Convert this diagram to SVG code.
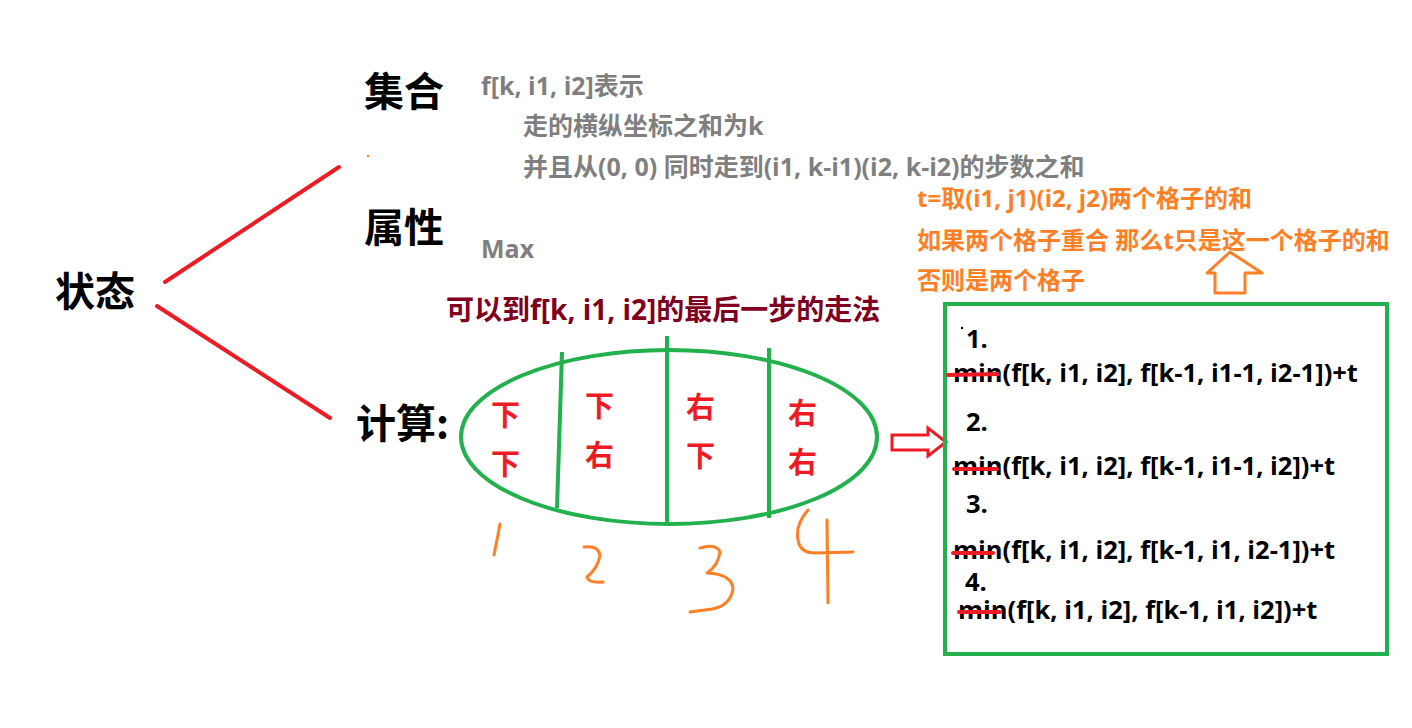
<svg xmlns="http://www.w3.org/2000/svg" width="1412" height="728" viewBox="0 0 1412 728">
<style>
text{font-family:"Open Sans","Noto Sans CJK SC",sans-serif;font-weight:bold}
.big{font-size:40px;fill:#000;font-family:"Noto Sans CJK SC",sans-serif}
.gray{font-size:25px;fill:#7f7f7f}
.org{font-size:24px;fill:#ff7f27}
.blk{font-size:25.5px;fill:#000}
.cell{font-size:29px;fill:#ed1c24;font-family:"Noto Sans CJK SC",sans-serif}
.title{font-size:28px;fill:#7f0020}
.red{stroke:#ed1c24;stroke-width:4;fill:none;stroke-linecap:round}
.grn{stroke:#22b14c;stroke-width:4;fill:none}
.hand{stroke:#ff7f27;stroke-width:3;fill:none;stroke-linecap:round;stroke-linejoin:round}
.strike{stroke:#ed1c24;stroke-width:4;stroke-linecap:round}
</style>
<rect width="1412" height="728" fill="#fff"/>
<g id="connectors">
<line class="red" x1="165" y1="282" x2="339" y2="167"/>
<line class="red" x1="157" y1="306" x2="330" y2="418"/>
<polygon points="892,435 928,435 928,428 946,442 928,456 928,450 892,450" fill="none" stroke="#ed1c24" stroke-width="3"/>
<polygon points="1230,252 1262,273 1245,273 1245,293 1215,293 1215,273 1207,273" fill="none" stroke="#ff7f27" stroke-width="3" stroke-linejoin="round"/>
</g>
<g id="state"><text class="big" x="55" y="306">状态</text></g>
<g id="set">
<text class="big" x="364" y="106">集合</text>
<text class="gray" x="481" y="95">f[k, i1, i2]表示</text>
<text class="gray" x="523" y="135">走的横纵坐标之和为k</text>
<text class="gray" x="523" y="176">并且从(0, 0) 同时走到(i1, k-i1)(i2, k-i2)的步数之和</text>
<circle cx="368" cy="156" r="1.2" fill="#ff7f27"/>
</g>
<g id="attr">
<text class="big" x="364" y="242">属性</text>
<text class="gray" x="481" y="258">Max</text>
</g>
<g id="calc">
<text class="big" x="356" y="438">计算:</text>
<text class="title" x="446" y="320">可以到f[k, i1, i2]的最后一步的走法</text>
</g>
<g id="ellipse">
<ellipse class="grn" cx="669" cy="437" rx="208" ry="87"/>
<line class="grn" x1="562" y1="352" x2="557" y2="508"/>
<line class="grn" x1="667" y1="336" x2="667" y2="524"/>
<line class="grn" x1="769" y1="348" x2="769" y2="518"/>
<text class="cell" x="491" y="426">下</text>
<text class="cell" x="491" y="475">下</text>
<text class="cell" x="585" y="417">下</text>
<text class="cell" x="585" y="466">右</text>
<text class="cell" x="686" y="418">右</text>
<text class="cell" x="686" y="467">下</text>
<text class="cell" x="788" y="424">右</text>
<text class="cell" x="788" y="473">右</text>
</g>
<g id="numbers">
<path class="hand" d="M500,524 Q497,540 494,555"/>
<path class="hand" d="M584,547 Q598,545 600,555 Q598,568 587,577 Q588,583 603,582"/>
<path class="hand" d="M700,548 Q716,543 720,552 Q718,566 707,573 Q732,574 733,589 Q730,606 712,609 L690,612"/>
<path class="hand" d="M808,510 Q795,525 798,540 Q800,553 815,553 L853,552 M827,520 L828,603"/>
</g>
<g id="note">
<text class="org" x="917" y="207">t=取(i1, j1)(i2, j2)两个格子的和</text>
<text class="org" x="917" y="249">如果两个格子重合 那么t只是这一个格子的和</text>
<text class="org" x="917" y="289">否则是两个格子</text>
</g>
<g id="box">
<rect x="945" y="304" width="442" height="350" fill="none" stroke="#22b14c" stroke-width="4"/>
<circle cx="962" cy="328" r="1.2" fill="#000"/>
<text class="blk" x="966" y="348">1.</text>
<text class="blk" x="953" y="382">min(f[k, i1, i2], f[k-1, i1-1, i2-1])+t</text>
<line class="strike" x1="948" y1="375" x2="998" y2="374"/>
<text class="blk" x="966" y="431">2.</text>
<text class="blk" x="953" y="475">min(f[k, i1, i2], f[k-1, i1-1, i2])+t</text>
<line class="strike" x1="954" y1="469" x2="997" y2="469"/>
<text class="blk" x="966" y="513">3.</text>
<text class="blk" x="953" y="559">min(f[k, i1, i2], f[k-1, i1, i2-1])+t</text>
<line class="strike" x1="953" y1="553" x2="993" y2="553"/>
<text class="blk" x="965" y="591">4.</text>
<text class="blk" x="958" y="619">min(f[k, i1, i2], f[k-1, i1, i2])+t</text>
<line class="strike" x1="959" y1="612" x2="1000" y2="612"/>
</g>
</svg>
